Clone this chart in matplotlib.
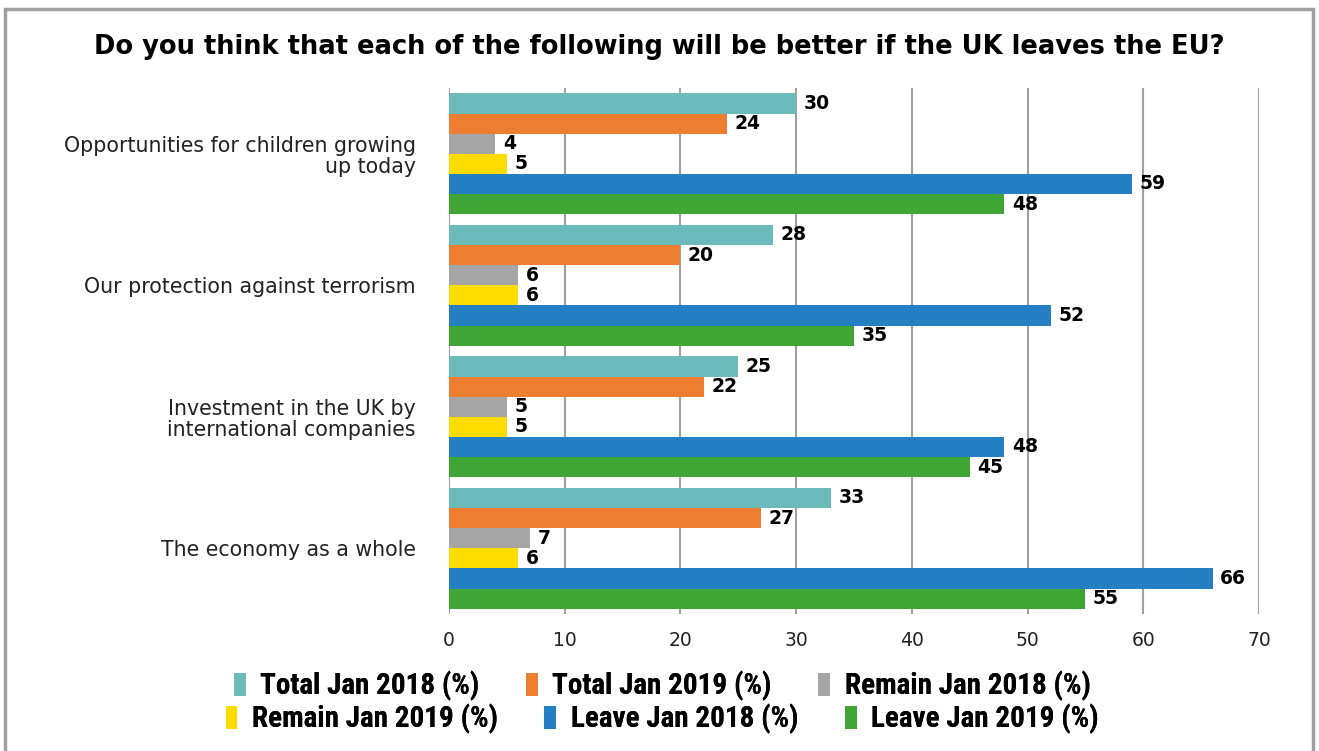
import matplotlib.pyplot as plt
import numpy as np
from matplotlib import font_manager
from matplotlib.patches import Rectangle, Patch

categories = [
    "Opportunities for children growing\nup today",
    "Our protection against terrorism",
    "Investment in the UK by\ninternational companies",
    "The economy as a whole",
]
series_names = [
    "Total Jan 2018 (%)", "Total Jan 2019 (%)", "Remain Jan 2018 (%)",
    "Remain Jan 2019 (%)", "Leave Jan 2018 (%)", "Leave Jan 2019 (%)",
]
total_2018 = [30, 28, 25, 33]
total_2019 = [24, 20, 22, 27]
remain_2018 = [4, 6, 5, 7]
remain_2019 = [5, 6, 5, 6]
leave_2018 = [59, 52, 48, 66]
leave_2019 = [48, 35, 45, 55]

colors = ["#6BBBBA", "#ED7D31", "#A5A5A5", "#FFDC00", "#2580C3", "#3FA535"]
values = [total_2018, total_2019, remain_2018, remain_2019, leave_2018, leave_2019]

# narrow bold face for the legend if one is around
installed = {f.name for f in font_manager.fontManager.ttflist}
narrow = None
for cand in ["Liberation Sans Narrow", "Roboto Condensed", "DejaVu Sans Condensed",
             "Open Sans Condensed", "Noto Sans Condensed"]:
    if cand in installed:
        narrow = cand
        break
if narrow:
    legend_prop = {"family": narrow, "weight": "bold", "size": 21}
else:
    legend_prop = {"family": "Roboto", "weight": "bold", "size": 19, "stretch": "condensed"}

fig = plt.figure(figsize=(13.19, 7.51), dpi=100)
ax = fig.add_axes([0.3404, 0.1824, 0.6141, 0.7004])

n = len(categories)
h = 0.153
y_base = np.arange(n)
for i, (vals, col) in enumerate(zip(values, colors)):
    y = y_base + (i - 2.5) * h
    bars = ax.barh(y, vals, height=h, color=col, zorder=3)
    for b, v in zip(bars, vals):
        ax.text(v + 0.65, b.get_y() + h / 2, str(v), va="center", ha="left",
                fontsize=13.5, fontweight="bold", color="black", zorder=4)

ax.set_ylim(n - 0.5, -0.5)
ax.set_xlim(0, 70)
ax.set_xticks(range(0, 71, 10))
ax.set_yticks(y_base)
ax.set_yticklabels(categories, fontsize=14.8, ha="right", color="#222222",
                   linespacing=1.1)
ax.tick_params(axis="y", length=0, pad=24)
ax.tick_params(axis="x", length=0, pad=12, labelsize=13.5, labelcolor="#222222")
ax.grid(axis="x", color="#A0A0A0", linewidth=1.5, zorder=0)
for s in ax.spines.values():
    s.set_visible(False)

fig.suptitle("Do you think that each of the following will be better if the UK leaves the EU?",
             x=0.5, y=0.955, fontsize=18.5, fontweight="heavy")

# one legend per row so each row is centred on its own
for row, yc in [(0, 0.0866), (1, 0.0426)]:
    idx = range(row * 3, row * 3 + 3)
    handles = [Patch(facecolor=colors[k], edgecolor="none") for k in idx]
    labels = [series_names[k] for k in idx]
    leg = fig.legend(handles, labels, loc="center", bbox_to_anchor=(0.502, yc), ncol=3,
                     frameon=False, handlelength=0.4, handleheight=0.85, handletextpad=0.5,
                     columnspacing=1.6, prop=legend_prop, borderpad=0)
    fig.add_artist(leg)

fig.patches.append(Rectangle((5 / 1319, -0.05), 1313 / 1319 - 5 / 1319, 1.05 - 9 / 751,
                             transform=fig.transFigure, fill=False,
                             edgecolor="#A0A0A0", linewidth=2.5))

fig.savefig("out.png", dpi=100)
